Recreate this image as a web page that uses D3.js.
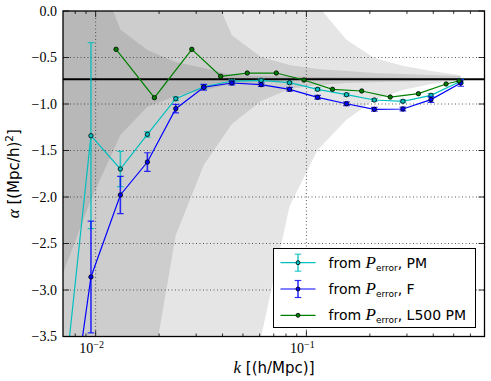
<!DOCTYPE html>
<html lang="en">
<meta charset="utf-8">
<title>alpha vs k</title>
<script src="https://d3js.org/d3.v7.min.js"></script>
<style>
  body { margin: 0; background: #fff; }
  .tl { font-family: "Liberation Serif", serif; font-size: 14px; fill: #000; }
  .lab { font-family: "DejaVu Sans", sans-serif; font-size: 15px; fill: #000; }
  .leg { font-family: "DejaVu Sans", sans-serif; font-size: 14px; fill: #000; }
</style>
<svg width="491" height="381"></svg>
<script>
// k grid of the PM / F measurements (also where the bands are sampled)
var kGrid = [0.0070, 0.0095, 0.0131, 0.0176, 0.0240, 0.0326, 0.0443, 0.0610, 0.0832, 0.113, 0.155, 0.210, 0.287, 0.390, 0.540];
var alphaPM = [-4.16, -1.341, -1.699, -1.326, -0.943, -0.814, -0.753, -0.745, -0.771, -0.842, -0.900, -0.957, -0.971, -0.907, -0.756];
var errPM   = [0.5, 1.0, 0.19, 0.03, 0.02, 0.02, 0.015, 0.015, 0.015, 0.015, 0.015, 0.015, 0.015, 0.02, 0.02];
var alphaF  = [-5.0, -2.86, -1.978, -1.624, -1.05, -0.820, -0.774, -0.792, -0.842, -0.928, -0.997, -1.057, -1.054, -0.953, -0.774];
var errF    = [1.0, 0.6, 0.2, 0.1, 0.045, 0.03, 0.02, 0.02, 0.02, 0.02, 0.02, 0.02, 0.02, 0.03, 0.035];
var kL500     = [0.0125, 0.0190, 0.0286, 0.0392, 0.0524, 0.0720, 0.0974, 0.133, 0.183, 0.250, 0.340, 0.460, 0.530];
var alphaL500 = [-0.412, -0.932, -0.412, -0.702, -0.667, -0.667, -0.742, -0.842, -0.860, -0.925, -0.889, -0.785, -0.753];
var alphaFid = -0.734;

// shaded regions, lower / upper edge on kGrid
var band1Lo = [-2.82, -2.03, -1.333, -1.03, -0.914, -0.85, -0.785, -0.763, -0.745, -0.742, -0.740, -0.739, -0.738, -0.737, -0.736];
var band1Hi = [1.5, 0.62, -0.20, -0.42, -0.548, -0.613, -0.688, -0.700, -0.705, -0.710, -0.713, -0.716, -0.718, -0.720, -0.722];
var band2Lo = [-10, -8, -6, -4.18, -2.41, -1.656, -1.215, -0.968, -0.839, -0.796, -0.775, -0.765, -0.757, -0.750, -0.745];
var band2Hi = [4, 3, 2, 1.5, 1.0, 0.43, -0.26, -0.495, -0.58, -0.624, -0.645, -0.667, -0.677, -0.688, -0.699];
var band3Lo = [-15, -12, -10, -8, -7, -6, -5, -3.5, -2.1, -1.495, -1.17, -0.957, -0.85, -0.785, -0.75];
var band3Hi = [6, 5, 4, 3, 2.5, 2, 1.5, 1.0, 0.6, 0.06, -0.31, -0.505, -0.59, -0.645, -0.69];

var yTicks = [0, -0.5, -1, -1.5, -2, -2.5, -3, -3.5];
var xMajor = [0.01, 0.1];
var xMajorExp = ["\u22122", "\u22121"];
var legendNames = ["PM", "F", "L500 PM"];
var colors = ["#00bfbf", "#0000ff", "#008000"];

var svg = d3.select("svg");
var margin = {top: 11, right: 6.5, bottom: 44.5, left: 63};
var width = 491 - margin.left - margin.right;
var height = 381 - margin.top - margin.bottom;
var g = svg.append("g").attr("transform", "translate(" + margin.left + "," + margin.top + ")");

var x = d3.scaleLog().domain([0.007, 0.7]).range([0, width]);
var y = d3.scaleLinear().domain([-3.5, 0]).range([height, 0]);

svg.append("defs").append("clipPath").attr("id", "clip")
  .append("rect").attr("width", width).attr("height", height);

var plot = g.append("g").attr("clip-path", "url(#clip)");

// bands
var bands = [[band3Lo, band3Hi], [band2Lo, band2Hi], [band1Lo, band1Hi]];
var area = d3.area()
  .x(function(d) { return x(d.k); })
  .y0(function(d) { return y(d.lo); })
  .y1(function(d) { return y(d.hi); });
bands.forEach(function(b) {
  var pts = kGrid.map(function(k, i) { return {k: k, lo: b[0][i], hi: b[1][i]}; });
  plot.append("path").attr("d", area(pts)).attr("fill", "#000").attr("fill-opacity", 0.1);
});

// grid
plot.selectAll(".gx").data(xMajor).enter().append("line")
  .attr("x1", x).attr("x2", x).attr("y1", 0).attr("y2", height)
  .attr("stroke", "#333").attr("stroke-width", 0.8).attr("stroke-dasharray", "1,2.5");
plot.selectAll(".gy").data(yTicks.slice(1, -1)).enter().append("line")
  .attr("x1", 0).attr("x2", width).attr("y1", y).attr("y2", y)
  .attr("stroke", "#333").attr("stroke-width", 0.8).attr("stroke-dasharray", "1,2.5");

// fiducial line
plot.append("line").attr("x1", 0).attr("x2", width)
  .attr("y1", y(alphaFid)).attr("y2", y(alphaFid))
  .attr("stroke", "#000").attr("stroke-width", 2);

var line = d3.line().x(function(d) { return x(d[0]); }).y(function(d) { return y(d[1]); });

var series = [
  {k: kGrid, a: alphaPM, e: errPM, c: colors[0]},
  {k: kGrid, a: alphaF, e: errF, c: colors[1]},
  {k: kL500, a: alphaL500, e: null, c: colors[2]}
];

series.forEach(function(s) {
  var pts = s.k.map(function(k, i) { return [k, s.a[i]]; });
  plot.append("path").attr("d", line(pts)).attr("fill", "none")
    .attr("stroke", s.c).attr("stroke-width", 1.2);
  if (s.e) {
    var eb = plot.append("g").attr("stroke", s.c).attr("stroke-opacity", 0.8);
    s.k.forEach(function(k, i) {
      var xx = x(k), top = y(s.a[i] + s.e[i]), bot = y(s.a[i] - s.e[i]);
      eb.append("line").attr("x1", xx).attr("x2", xx).attr("y1", top).attr("y2", bot).attr("stroke-width", 1.6);
      eb.append("line").attr("x1", xx - 3.3).attr("x2", xx + 3.3).attr("y1", top).attr("y2", top).attr("stroke-width", 1.2);
      eb.append("line").attr("x1", xx - 3.3).attr("x2", xx + 3.3).attr("y1", bot).attr("y2", bot).attr("stroke-width", 1.2);
    });
  }
  plot.append("g").selectAll("circle").data(pts).enter().append("circle")
    .attr("cx", function(d) { return x(d[0]); })
    .attr("cy", function(d) { return y(d[1]); })
    .attr("r", 2.2).attr("fill", s.c).attr("stroke", "#000").attr("stroke-width", 0.8);
});

// frame
g.append("rect").attr("width", width).attr("height", height)
  .attr("fill", "none").attr("stroke", "#000").attr("stroke-width", 1.3);

// x ticks (log, major + minor), inside, bottom and top
var minor = [];
[0.001, 0.01, 0.1].forEach(function(dec) {
  for (var m = 2; m <= 9; m++) {
    var v = dec * m;
    if (v > 0.007 && v < 0.7) minor.push(v);
  }
});
var tk = g.append("g").attr("stroke", "#000").attr("stroke-width", 0.8);
minor.forEach(function(v) {
  tk.append("line").attr("x1", x(v)).attr("x2", x(v)).attr("y1", height).attr("y2", height - 3);
  tk.append("line").attr("x1", x(v)).attr("x2", x(v)).attr("y1", 0).attr("y2", 3);
});
xMajor.forEach(function(v) {
  tk.append("line").attr("x1", x(v)).attr("x2", x(v)).attr("y1", height).attr("y2", height - 6);
  tk.append("line").attr("x1", x(v)).attr("x2", x(v)).attr("y1", 0).attr("y2", 6);
});
yTicks.forEach(function(v) {
  tk.append("line").attr("x1", 0).attr("x2", 6).attr("y1", y(v)).attr("y2", y(v));
  tk.append("line").attr("x1", width).attr("x2", width - 6).attr("y1", y(v)).attr("y2", y(v));
});

// tick labels
g.selectAll(".yl").data(yTicks).enter().append("text").attr("class", "tl")
  .attr("x", -6).attr("y", y).attr("dy", "0.35em").attr("text-anchor", "end")
  .text(function(d) { return d === 0 ? "0.0" : "\u2212" + d3.format(".1f")(-d); });

xMajor.forEach(function(v, i) {
  var t = g.append("text").attr("class", "tl").attr("x", x(v) - 4).attr("y", height + 16)
    .attr("text-anchor", "middle");
  t.append("tspan").text("10");
  t.append("tspan").attr("dy", -5).attr("font-size", "10px").text(xMajorExp[i]);
});

// axis labels
var xl = svg.append("text").attr("class", "lab").attr("x", 274).attr("y", 373).attr("text-anchor", "middle");
xl.append("tspan").attr("font-family", "Liberation Serif, serif").attr("font-style", "italic").attr("font-size", "17px").text("k");
xl.append("tspan").text(" [(h/Mpc)]");

var yl = svg.append("text").attr("class", "lab").attr("text-anchor", "middle")
  .attr("transform", "translate(19," + (margin.top + height / 2) + ") rotate(-90)");
yl.append("tspan").attr("font-family", "Liberation Serif, serif").attr("font-style", "italic").attr("font-size", "17px").text("\u03b1");
yl.append("tspan").text(" [(Mpc/h)");
yl.append("tspan").attr("dy", -6).attr("font-size", "10.5px").text("2");
yl.append("tspan").attr("dy", 6).text("]");

// legend
var leg = svg.append("g").attr("transform", "translate(273.5,248.5)");
leg.append("rect").attr("width", 202).attr("height", 79).attr("fill", "#fff")
  .attr("stroke", "#000").attr("stroke-width", 1);
legendNames.forEach(function(name, i) {
  var row = leg.append("g").attr("transform", "translate(0," + (14.2 + i * 26.3) + ")");
  row.append("line").attr("x1", 7).attr("x2", 42).attr("y1", 0).attr("y2", 0)
    .attr("stroke", colors[i]).attr("stroke-width", 1.2);
  if (i < 2) {
    var eg = row.append("g").attr("stroke", colors[i]).attr("stroke-opacity", 0.8);
    eg.append("line").attr("x1", 24.5).attr("x2", 24.5).attr("y1", -8.5).attr("y2", 8.5).attr("stroke-width", 1.6);
    eg.append("line").attr("x1", 21.2).attr("x2", 27.8).attr("y1", -8.5).attr("y2", -8.5).attr("stroke-width", 1.2);
    eg.append("line").attr("x1", 21.2).attr("x2", 27.8).attr("y1", 8.5).attr("y2", 8.5).attr("stroke-width", 1.2);
  }
  row.append("circle").attr("cx", 24.5).attr("cy", 0).attr("r", 2).attr("fill", colors[i])
    .attr("stroke", "#000").attr("stroke-width", 0.8);
  var t = row.append("text").attr("class", "leg").attr("x", 55).attr("y", 5);
  t.append("tspan").text("from ");
  t.append("tspan").attr("font-family", "Liberation Serif, serif").attr("font-style", "italic").attr("font-size", "17px").text("P");
  t.append("tspan").attr("font-size", "9px").attr("dy", 3).text("error");
  t.append("tspan").attr("dy", -3).text(", " + name);
});
</script>
</html>
